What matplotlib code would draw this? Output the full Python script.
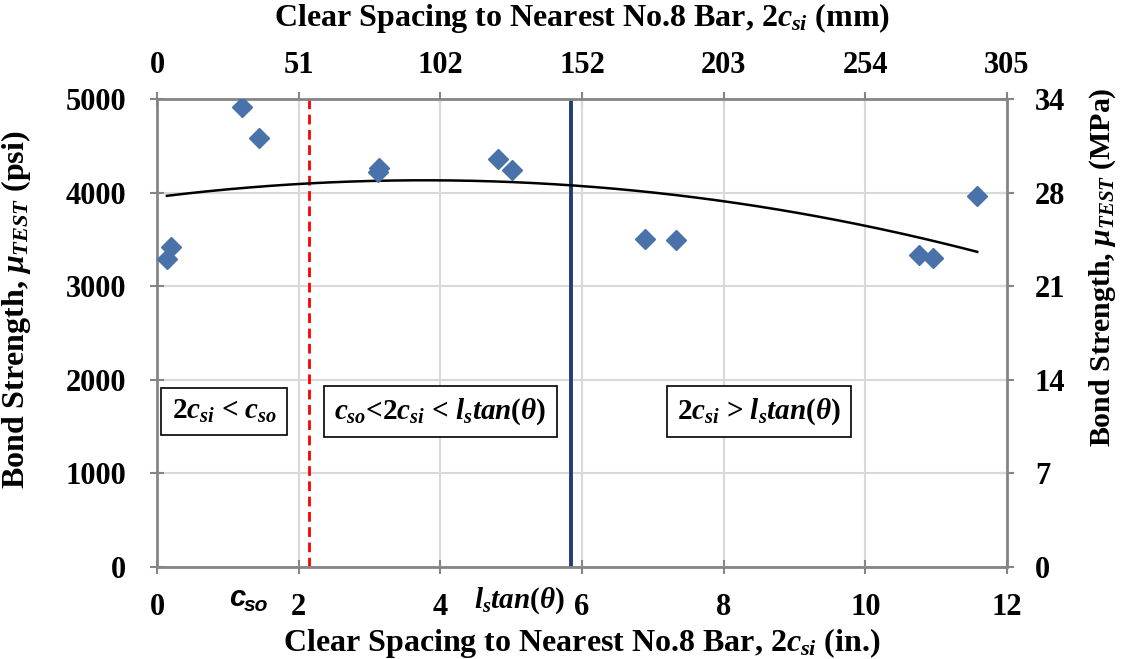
import numpy as np
import matplotlib.pyplot as plt

plt.rcParams['font.family'] = 'Liberation Serif'
plt.rcParams['font.weight'] = 'bold'
plt.rcParams['axes.labelweight'] = 'bold'
plt.rcParams['mathtext.fontset'] = 'custom'
plt.rcParams['mathtext.rm'] = 'Liberation Serif:bold'
plt.rcParams['mathtext.it'] = 'Liberation Serif:bold:italic'
plt.rcParams['mathtext.bf'] = 'Liberation Serif:bold'

# Data
spacing_in = [0.14, 0.20, 1.20, 1.44, 3.12, 3.13, 4.82, 5.01, 6.89, 7.33, 10.76, 10.95, 11.58]
strength_psi = [3290, 3420, 4915, 4583, 4220, 4260, 4359, 4241, 3504, 3494, 3333, 3301, 3964]

c_so = 2.15
ls_tan = 5.85

x_ticks = [0, 2, 4, 6, 8, 10, 12]
mm_labels = ['0', '51', '102', '152', '203', '254', '305']
y_ticks = [0, 1000, 2000, 3000, 4000, 5000]
mpa_labels = ['0', '7', '14', '21', '28', '34']

grey = '#858585'
tick_kw = dict(colors=grey, labelcolor='black', labelsize=22, width=1.5,
               length=10, direction='inout')

fig = plt.figure(figsize=(11.26, 6.59), dpi=100)
ax = fig.add_axes([0.1394, 0.1396, 0.7549, 0.7102])

ax.set_xlim(0, 12)
ax.set_ylim(0, 5000)
ax.set_xticks(x_ticks)
ax.set_yticks(y_ticks)
ax.grid(color='#d9d9d9', lw=1.5)
ax.set_axisbelow(True)
for s in ax.spines.values():
    s.set_color(grey)
    s.set_linewidth(2)
ax.tick_params(**tick_kw)
ax.tick_params(axis='x', pad=14)
ax.tick_params(axis='y', pad=17)

ax.axvline(c_so, color='red', ls=(0, (3.5, 2)), lw=2)
ax.axvline(ls_tan, color='#1f3f73', lw=2.8)

# trendline (2nd order polynomial, like Excel)
coef = np.polyfit(spacing_in, strength_psi, 2)
xx = np.linspace(min(spacing_in), max(spacing_in), 200)
ax.plot(xx, np.poly1d(coef)(xx), color='black', lw=1.8)

ax.plot(spacing_in, strength_psi, 'D', color='#4a72aa', markersize=10, zorder=5)

ax.set_xlabel(r'Clear Spacing to Nearest No.8 Bar, 2$c_{si}$ (in.)', fontsize=23)
ax.xaxis.set_label_coords(0.5, -0.127)
ax.set_ylabel(r'Bond Strength, $\mu_{TEST}$ (psi)', fontsize=23)
ax.yaxis.set_label_coords(-0.146, 0.549)

top = ax.secondary_xaxis('top', functions=(lambda x: x * 25.4, lambda x: x / 25.4))
top.set_xticks([t * 25.4 for t in x_ticks])
top.set_xticklabels(mm_labels)
top.tick_params(pad=9, **tick_kw)
top.spines['top'].set_color(grey)
ax.text(0.5, 1.173, r'Clear Spacing to Nearest No.8 Bar, 2$c_{si}$ (mm)', fontsize=23,
        ha='center', va='center', transform=ax.transAxes)

right = ax.secondary_yaxis('right', functions=(lambda y: y * 0.006895, lambda y: y / 0.006895))
right.set_yticks([t * 0.006895 for t in y_ticks])
right.set_yticklabels(mpa_labels)
right.tick_params(pad=15, **tick_kw)
right.spines['right'].set_color(grey)
ax.text(1.113, 0.641, r'Bond Strength, $\mu_{TEST}$ (MPa)', fontsize=21.5, rotation=90,
        ha='center', va='center', transform=ax.transAxes)

box = dict(boxstyle='square,pad=0.35', fc='white', ec='black', lw=1.2)
ax.text(0.95, 1660, r'2$c_{si}$ < $c_{so}$', fontsize=21, ha='center', va='center', bbox=box)
ax.text(4.0, 1660, r'$c_{so}$<2$c_{si}$ < $l_stan(\theta)$', fontsize=21, ha='center', va='center', bbox=box)
ax.text(8.5, 1660, r'2$c_{si}$ > $l_stan(\theta)$', fontsize=21, ha='center', va='center', bbox=box)

# labels below the axis for c_so and l_s tan(theta)
ax.annotate('c', xy=(1.13, 0), xycoords=('data', 'axes fraction'), xytext=(0, -22),
            textcoords='offset points', ha='center', va='center', fontsize=21,
            family='Liberation Sans', style='italic', weight='bold')
ax.annotate('so', xy=(1.13, 0), xycoords=('data', 'axes fraction'), xytext=(14, -28),
            textcoords='offset points', ha='center', va='center', fontsize=15,
            family='Liberation Sans', style='italic', weight='bold')
ax.annotate(r'$l_stan(\theta)$', xy=(5.12, 0), xycoords=('data', 'axes fraction'), xytext=(0, -24),
            textcoords='offset points', ha='center', va='center', fontsize=21)

fig.savefig('out.png', dpi=100)
